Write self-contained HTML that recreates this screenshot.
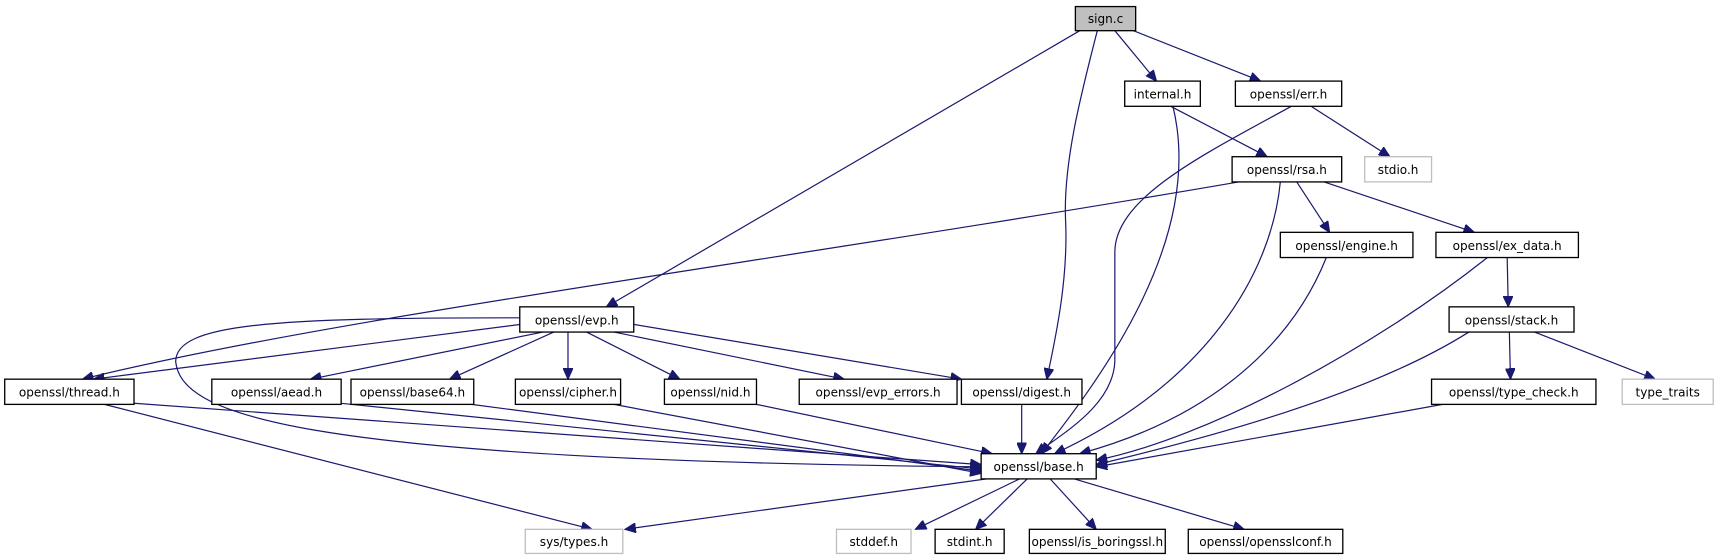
<!DOCTYPE html>
<html><head><meta charset="utf-8"><style>
html,body{margin:0;padding:0;background:#fff;}
svg{display:block;}
text{font-family:"DejaVu Sans","Liberation Sans",sans-serif;font-size:11px;text-anchor:middle;fill:#000;}
</style></head><body>
<svg width="1719" height="560" viewBox="0 0 1568 511" xmlns="http://www.w3.org/2000/svg">
<defs>
<marker id="a" markerUnits="userSpaceOnUse" markerWidth="11" markerHeight="9" refX="10" refY="4.5" orient="auto">
<path d="M0,0 L10,4.5 L0,9 Z" fill="#191970" stroke="#191970"/>
</marker>
</defs>
<g fill="none" stroke="#191970" stroke-width="1.1" marker-end="url(#a)">
<path d="M985,28 L553,280"/>
<path d="M1001,28 C985,90 970,150 972,200 C975,260 960,320 955,346"/>
<path d="M1017,28 L1055,74"/>
<path d="M1034,28 L1150,74"/>
<path d="M1068,97 L1156,143"/>
<path d="M1070,97 C1100,220 1000,350 950,414"/>
<path d="M1178,97 C1100,140 1017,180 1017,230 L1017,330 C1015,370 970,395 945,414"/>
<path d="M1196,97 L1268,143"/>
<path d="M1130,166 C700,240 300,290 75,346"/>
<path d="M1168,166 C1160,250 1100,350 962,414"/>
<path d="M1183,166 L1213,212"/>
<path d="M1208,166 L1345,212"/>
<path d="M1210,235 C1180,310 1110,380 985,414"/>
<path d="M1357,235 C1250,320 1100,400 1000,420"/>
<path d="M1375,235 L1376,280"/>
<path d="M1340,303 C1250,360 1100,400 1000,424"/>
<path d="M1377,303 L1378,346"/>
<path d="M1400,303 L1510,346"/>
<path d="M1316,369 L1000,426"/>
<path d="M475,296 L85,346"/>
<path d="M474,290 C250,290 160,295 160,330 C165,375 250,420 895,426"/>
<path d="M495,303 L283,346"/>
<path d="M505,303 L410,346"/>
<path d="M518,303 L518,346"/>
<path d="M535,303 L620,346"/>
<path d="M560,303 L770,346"/>
<path d="M578,296 L877,346"/>
<path d="M932,369 L932,414"/>
<path d="M122,368 L895,424"/>
<path d="M95,369 L540,483"/>
<path d="M311,368 L895,428"/>
<path d="M430,369 L895,430"/>
<path d="M560,369 L895,432"/>
<path d="M690,369 L905,414"/>
<path d="M900,437 L570,483"/>
<path d="M930,437 L835,483"/>
<path d="M937,437 L890,483"/>
<path d="M958,437 L1000,483"/>
<path d="M980,437 L1135,483"/>
</g>
<g stroke-width="1.2">
<rect x="981" y="6" width="55" height="22" fill="#bfbfbf" stroke="#000"/><text x="1008.5" y="21">sign.c</text>
<rect x="1026" y="74" width="69" height="23" fill="#fff" stroke="#000"/><text x="1060.5" y="90">internal.h</text>
<rect x="1127" y="74" width="97" height="23" fill="#fff" stroke="#000"/><text x="1175.5" y="90">openssl/err.h</text>
<rect x="1245" y="143" width="61" height="23" fill="#fff" stroke="#bfbfbf"/><text x="1275.5" y="159">stdio.h</text>
<rect x="1124" y="143" width="100" height="23" fill="#fff" stroke="#000"/><text x="1174" y="159">openssl/rsa.h</text>
<rect x="1168" y="212" width="121" height="23" fill="#fff" stroke="#000"/><text x="1228.5" y="228">openssl/engine.h</text>
<rect x="1310" y="212" width="130" height="23" fill="#fff" stroke="#000"/><text x="1375" y="228">openssl/ex_data.h</text>
<rect x="474" y="280" width="104" height="23" fill="#fff" stroke="#000"/><text x="526" y="296">openssl/evp.h</text>
<rect x="1322" y="280" width="114" height="23" fill="#fff" stroke="#000"/><text x="1379" y="296">openssl/stack.h</text>
<rect x="4" y="346" width="118" height="23" fill="#fff" stroke="#000"/><text x="63" y="362">openssl/thread.h</text>
<rect x="193" y="346" width="118" height="23" fill="#fff" stroke="#000"/><text x="252" y="362">openssl/aead.h</text>
<rect x="320" y="346" width="112" height="23" fill="#fff" stroke="#000"/><text x="376" y="362">openssl/base64.h</text>
<rect x="470" y="346" width="96" height="23" fill="#fff" stroke="#000"/><text x="518" y="362">openssl/cipher.h</text>
<rect x="606" y="346" width="84" height="23" fill="#fff" stroke="#000"/><text x="648" y="362">openssl/nid.h</text>
<rect x="729" y="346" width="144" height="23" fill="#fff" stroke="#000"/><text x="801" y="362">openssl/evp_errors.h</text>
<rect x="877" y="346" width="110" height="23" fill="#fff" stroke="#000"/><text x="932" y="362">openssl/digest.h</text>
<rect x="1306" y="346" width="150" height="23" fill="#fff" stroke="#000"/><text x="1381" y="362">openssl/type_check.h</text>
<rect x="1480" y="346" width="83" height="23" fill="#fff" stroke="#bfbfbf"/><text x="1521.5" y="362">type_traits</text>
<rect x="895" y="414" width="105" height="23" fill="#fff" stroke="#000"/><text x="947.5" y="430">openssl/base.h</text>
<rect x="479" y="483" width="89" height="22" fill="#fff" stroke="#bfbfbf"/><text x="523.5" y="498">sys/types.h</text>
<rect x="763" y="483" width="68" height="22" fill="#fff" stroke="#bfbfbf"/><text x="797" y="498">stddef.h</text>
<rect x="853" y="483" width="63" height="22" fill="#fff" stroke="#000"/><text x="884.5" y="498">stdint.h</text>
<rect x="939" y="483" width="124" height="22" fill="#fff" stroke="#000"/><text x="1001" y="498">openssl/is_boringssl.h</text>
<rect x="1084" y="483" width="141" height="22" fill="#fff" stroke="#000"/><text x="1154.5" y="498">openssl/opensslconf.h</text>
</g>
</svg>
</body></html>
